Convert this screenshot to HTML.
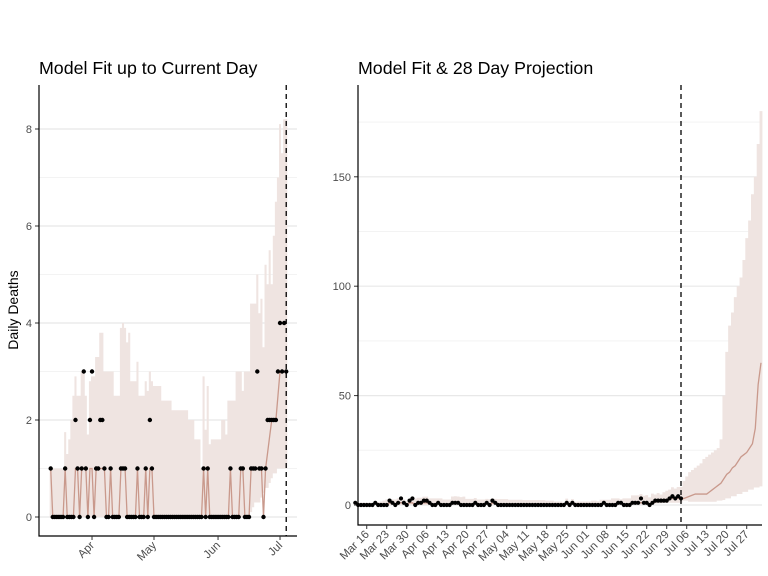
<!DOCTYPE html>
<html><head><meta charset="utf-8"><style>
body{margin:0;background:#fff;}
svg{display:block;font-family:"Liberation Sans",sans-serif;}
</style></head><body>
<svg id="chart" width="768" height="576" viewBox="0 0 768 576" xmlns="http://www.w3.org/2000/svg">
<text x="39" y="74" font-size="17.8" fill="#000">Model Fit up to Current Day</text>
<text x="358" y="74" font-size="17.8" fill="#000">Model Fit &amp; 28 Day Projection</text>
<text transform="translate(18,310) rotate(-90)" text-anchor="middle" font-size="14">Daily Deaths</text>
<g id="left"></g>
<g id="right"></g>
</svg>
<script>
// observed daily deaths, day 0 = Mar 12
const deaths = [1,0,0,0,0,0,0,1,0,0,0,0,2,1,0,1,3,1,0,2,3,0,1,1,2,2,1,0,0,1,0,0,0,0,1,1,1,0,0,0,0,0,1,0,0,0,1,0,2,1,
0,0,0,0,0,0,0,0,0,0,0,0,0,0,0,0,0,0,0,0,0,0,0,0,1,0,1,0,0,0,0,0,0,0,0,0,0,1,0,0,0,0,1,1,0,0,0,1,1,1,3,1,1,0,1,2,2,2,2,2,3,4,3,4,3];
const fitMean = [1,0,0,0,0,0,0,1,0,0,0,0,1,1,0,1,1,1,0,1,1,0,1,1,1,1,1,0,0,1,0,0,0,0,1,1,1,0,0,0,0,0,1,0,0,0,1,0,1,1,
0,0,0,0,0,0,0,0,0,0,0,0,0,0,0,0,0,0,0,0,0,0,0,0,1,0,1,0,0,0,0,0,0,0,0,0,0,1,0,0,0,0,1,1,0,0,0,1,1,1,1,1,1,0,1,1.33,1.67,2,2,2,2.5,3,3,3,3];
const fitUpper = [1,1,1,1,1,1,1,1.75,1.3,1.6,2.0,2.5,2.9,2.5,2.5,3,3,2.5,1.7,2.8,2.9,2.9,3.3,3.3,3.8,3.8,3,3,3,3,3,2.5,2.5,2.5,3.9,4,3.9,3.6,3.8,2.8,2.8,2.8,3.2,2.5,2.5,2.5,2.8,2.6,3,2.8,
2.7,2.7,2.7,2.7,2.4,2.4,2.4,2.4,2.4,2.2,2.2,2.2,2.2,2.2,2.2,2.2,2.2,2,2,2,1.6,1.6,1.6,1,2.9,1.8,2.7,1.5,1.6,1.6,1.6,1.6,1.6,2,2,1.7,2.4,2.4,2.4,2.4,3,3,3,2.6,3,3,3,4.4,4.4,4.4,5,4.2,4.5,3.5,5.2,4.8,5.5,4.8,5.8,6.5,7,8.1,7.5,8.2,8.2];
const fitLower = [0,0,0,0,0,0,0,0,0,0,0,0,0,0,0,0,0,0,0,0,0,0,0,0,0,0,0,0,0,0,0,0,0,0,0,0,0,0,0,0,0,0,0,0,0,0,0,0,0,0,
0,0,0,0,0,0,0,0,0,0,0,0,0,0,0,0,0,0,0,0,0,0,0,0,0,0,0,0,0,0,0,0,0,0,0,0,0,0,0,0,0,0,0,0,0,0,0,0.1,0.2,0.3,0.3,0.3,0.4,0.5,0.6,0.6,0.7,0.8,0.9,0.9,1,1,1,1,1];
// projection, days 115..142
const projMean = [3,3.5,4,4.5,5,5,5,5,5,6,7,8,9,10,12,14,15,17,18,20,22,23,24,26,28,35,55,65];
const projUpper = [11,13,15,16,17,18,19,21,22,23,24,25,26,30,50,70,82,88,95,100,104,112,122,130,142,150,165,180];
const projLower = [2,2,1.5,1.5,1.5,1.5,1.5,1.5,1.5,1.5,1.5,1.5,2,2,2.3,3,3,4,4,5,5,6,6,7,7,8,8,8.5];
const leftTicks = [0,2,4,6,8];
const rightTicks = [0,50,100,150];
const leftMonthLabels = ["Apr","May","Jun","Jul"];
const leftMonthDays = [20,50,81,111];
const rightWeekLabels = ["Mar 16","Mar 23","Mar 30","Apr 06","Apr 13","Apr 20","Apr 27","May 04","May 11","May 18","May 25","Jun 01","Jun 08","Jun 15","Jun 22","Jun 29","Jul 06","Jul 13","Jul 20","Jul 27"];
const currentDay = 114;

const NS="http://www.w3.org/2000/svg";
function mk(parent,tag,attrs){const e=document.createElementNS(NS,tag);for(const k in attrs)e.setAttribute(k,attrs[k]);parent.appendChild(e);return e;}
const RIB="#efe4e1", LINE="#c9998c";

function drawPanel(g,cfg){
  const {x,y,x0,x1,ticks,minor,days,lower,upper,mean,pts,r}=cfg;
  minor.forEach(v=>{const l=mk(g,'line',{x1:x0,x2:x1,y1:y(v),y2:y(v),stroke:'#f3f3f3','stroke-width':1});
    
    });
  ticks.forEach(v=>{const l=mk(g,'line',{x1:x0,x2:x1,y1:y(v),y2:y(v),stroke:'#e8e8e8','stroke-width':1.2});
    
    
    const t=mk(g,'line',{x1:x0-4,x2:x0,y1:y(v),y2:y(v),stroke:'#333','stroke-width':1});
    
    
    const tx=mk(g,'text',{x:x0-7,y:y(v)+4,'text-anchor':'end','font-size':11,fill:'#4d4d4d'});tx.textContent=v;
    
    });
  let top='',bot='';
  days.forEach((d,i)=>{const xa=x(d-0.5),xb=x(d+0.5);top+=`${xa},${y(upper[i])} ${xb},${y(upper[i])} `;});
  for(let i=days.length-1;i>=0;i--){const d=days[i];bot+=`${x(d+0.5)},${y(lower[i])} ${x(d-0.5)},${y(lower[i])} `;}
  const rb=mk(g,'polygon',{points:top+bot,fill:RIB});
  
  
  const ln=mk(g,'polyline',{points:days.map((d,i)=>`${x(d)},${y(mean[i])}`).join(' '),fill:'none',stroke:LINE,'stroke-width':1.3});
  
  
  pts.forEach((v,i)=>{const c=mk(g,'circle',{cx:x(i),cy:y(v),r:r,fill:'#000'});
    
    });
}

(function(){
  const g=document.getElementById('left');
  const x=d=>50.7+d*2.066, y=v=>517-v*48.5;
  const days=deaths.map((_,i)=>i);
  drawPanel(g,{x,y,x0:39,x1:297,ticks:leftTicks,minor:[1,3,5,7],days,lower:fitLower,upper:fitUpper,mean:fitMean,pts:deaths,r:2.2});
  const cl=mk(g,'line',{x1:x(currentDay),x2:x(currentDay),y1:85,y2:536,stroke:'#000','stroke-width':1.3,'stroke-dasharray':'5,4'});
  
  
  const ax=mk(g,'path',{d:'M39,85 V536 H297',fill:'none',stroke:'#000','stroke-width':1.2});
  
  
  leftMonthDays.forEach((d,i)=>{const xx=x(d);
    const t=mk(g,'line',{x1:xx,x2:xx,y1:536,y2:540,stroke:'#333'});
    
    
    const tx=mk(g,'text',{transform:`translate(${xx+3},${546}) rotate(-45)`,'text-anchor':'end','font-size':11.5,fill:'#4d4d4d'});tx.textContent=leftMonthLabels[i];
    
    });
})();

(function(){
  const g=document.getElementById('right');
  const x=d=>355.3+d*2.857, y=v=>505-v*2.188;
  const days=[],lo=[],up=[],me=[];
  deaths.forEach((_,i)=>{days.push(i);lo.push(fitLower[i]);up.push(fitUpper[i]);me.push(fitMean[i]);});
  projMean.forEach((v,k)=>{days.push(115+k);lo.push(projLower[k]);up.push(projUpper[k]);me.push(v);});
  drawPanel(g,{x,y,x0:358,x1:762,ticks:rightTicks,minor:[25,75,125,175],days,lower:lo,upper:up,mean:me,pts:deaths,r:2.1});
  const cl=mk(g,'line',{x1:681,x2:681,y1:85,y2:525,stroke:'#000','stroke-width':1.3,'stroke-dasharray':'5,4'});
  
  
  const ax=mk(g,'path',{d:'M358,85 V525 H762',fill:'none',stroke:'#000','stroke-width':1.2});
  
  
  rightWeekLabels.forEach((lab,i)=>{const xx=x(4+7*i);
    const t=mk(g,'line',{x1:xx,x2:xx,y1:525,y2:529,stroke:'#333'});
    
    
    const tx=mk(g,'text',{transform:`translate(${xx+3},${535}) rotate(-45)`,'text-anchor':'end','font-size':11.5,fill:'#4d4d4d'});tx.textContent=lab;
    
    });
})();
</script>
</body></html>
